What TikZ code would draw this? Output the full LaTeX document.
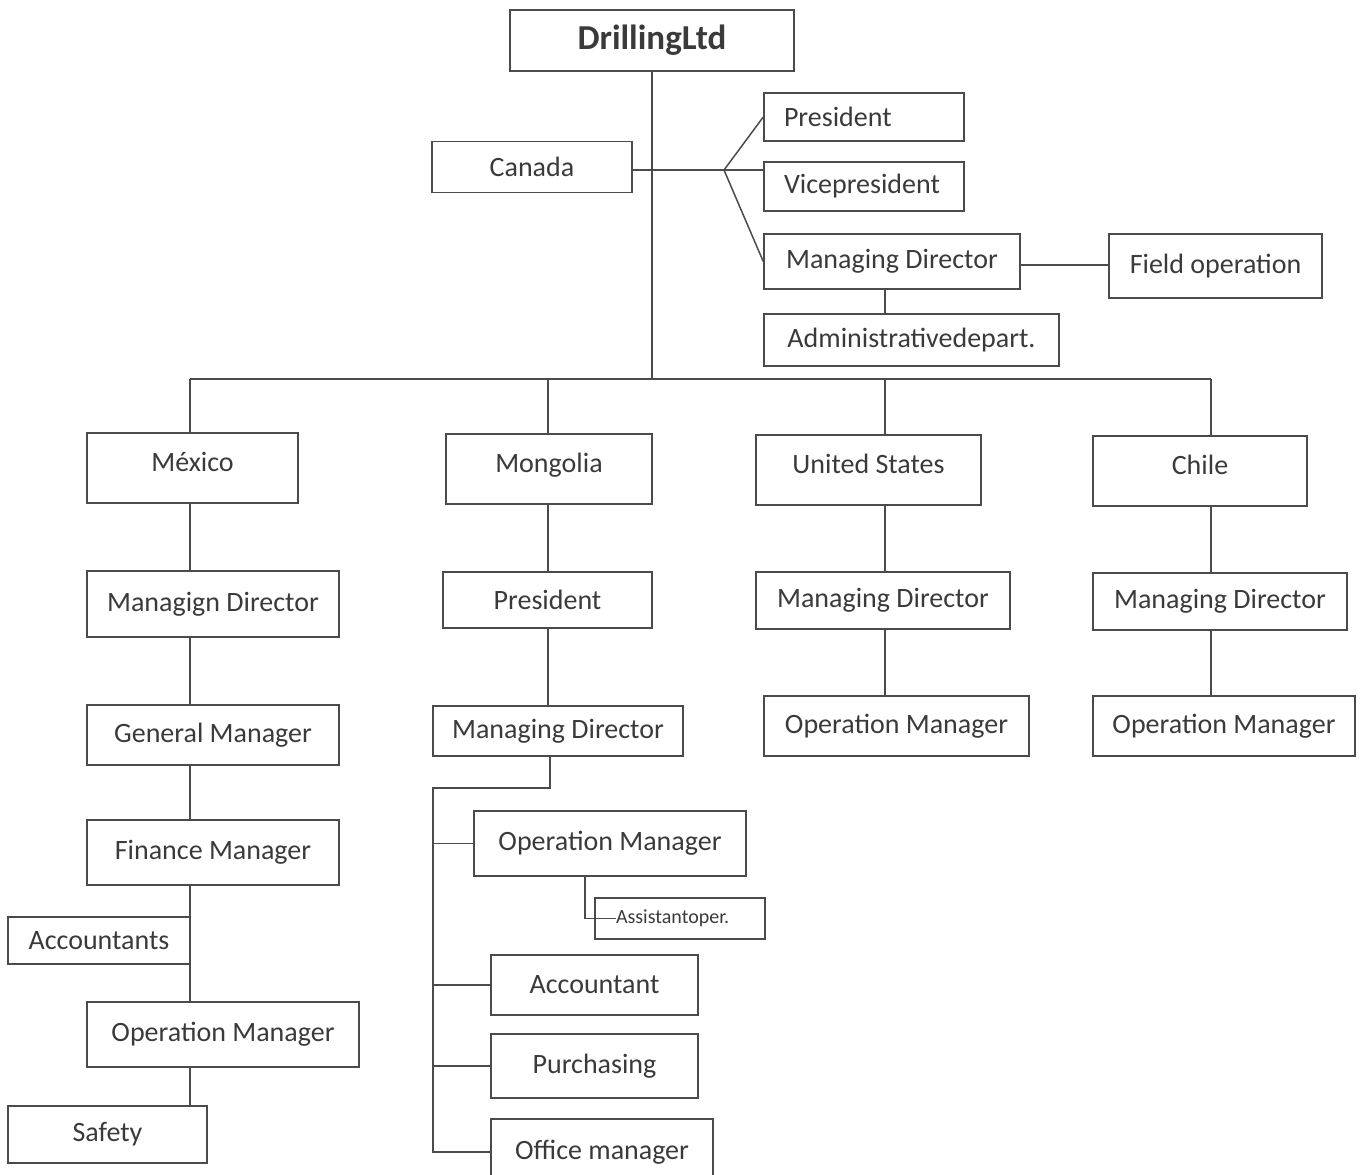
\documentclass[tikz,border=0pt]{standalone}
\usepackage{fontspec}
\setmainfont{Carlito}
\usetikzlibrary{positioning}
\definecolor{linegray}{HTML}{4B4B4B}
\definecolor{textgray}{HTML}{3A3A3A}
\begin{document}
\begin{tikzpicture}[x=1pt,y=-1pt,
  unit/.style 2 args={draw=linegray,line width=1.5pt,rectangle,inner sep=0pt,
    minimum width=#1,minimum height=#2,text=textgray,font=\fontsize{28}{32}\selectfont},
  upperset/.style={text height=38,text depth=32},
  conn/.style={draw=linegray,line width=1.5pt}]
\useasboundingbox (0,0) rectangle (1360,1175);

% top and Canada
\node[unit={284}{61},font=\bfseries\fontsize{35}{40}\selectfont] (drill) at (652,40.5) {DrillingLtd};
\node[unit={200}{51}] (can) at (532,167) {Canada};
\node[unit={200}{48},text width=160,align=left] (canpres) at (864,117) {President};
\node[unit={200}{49},text width=160,align=left] (canvice) at (864,186.5) {Vicepresident};
\node[unit={256}{55}] (canmd) at (892,261.5) {Managing Director};
\node[unit={213}{64}] (canfield) at (1215.5,266) {Field operation};
\node[unit={295}{52}] (canadm) at (911.5,340) {Administrativedepart.};

% countries
\node[unit={211}{70},upperset] (mex) at (192.5,468) {México};
\node[unit={206}{70},upperset] (mon) at (549,469) {Mongolia};
\node[unit={225}{70},upperset] (usa) at (868.5,470) {United States};
\node[unit={214}{70},upperset] (chi) at (1200,471) {Chile};

% México
\node[unit={252}{66}] (mexmd) at (213,604) {Managign Director};
\node[unit={252}{60}] (mexgm) at (213,735) {General Manager};
\node[unit={252}{65}] (mexfin) at (213,852.5) {Finance Manager};
\node[unit={182}{47}] (mexacc) at (99,940.5) {Accountants};
\node[unit={272}{65}] (mexop) at (223,1034.5) {Operation Manager};
\node[unit={199}{57}] (mexsaf) at (107.5,1134.5) {Safety};

% Mongolia
\node[unit={209}{56}] (monpres) at (547.5,600) {President};
\node[unit={250}{50}] (monmd) at (558,731) {Managing Director};
\node[unit={272}{65}] (monop) at (610,843.5) {Operation Manager};
\node[unit={170}{41},text width=128,align=left,font=\fontsize{20}{24}\selectfont] (monasst) at (680,918.5) {Assistantoper.};
\node[unit={207}{60}] (monacc) at (594.5,985) {Accountant};
\node[unit={207}{64}] (monpur) at (594.5,1066) {Purchasing};
\node[unit={222}{66}] (monoff) at (602,1152) {Office manager};

% United States and Chile
\node[unit={254}{57}] (usamd) at (883,600.5) {Managing Director};
\node[unit={265}{60}] (usaop) at (896.5,726) {Operation Manager};
\node[unit={254}{57}] (chimd) at (1220,601.5) {Managing Director};
\node[unit={262}{60}] (chiop) at (1224,726) {Operation Manager};

% connectors
\coordinate (bar) at (653,379);
\coordinate (fork) at (724,170);
\coordinate (mexcol) at (190,379);
\coordinate (moncol) at (548,379);
\coordinate (usacol) at (885,379);
\coordinate (chicol) at (1211,379);
\coordinate (monbus) at (433,788);

\draw[conn] (drill.south) -- (drill.south |- bar);
\draw[conn] (can.east |- fork) -- (fork) -- (fork -| canvice.west);
\draw[conn] (fork) -- (canpres.west);
\draw[conn] (fork) -- (canmd.west);
\draw[conn] ([yshift=-3.5]canmd.east) -- ([yshift=-3.5]canmd.east -| canfield.west);
\draw[conn] (usacol |- canmd.south) -- (usacol |- canadm.north);

\draw[conn] (mexcol) -- (chicol);
\foreach \c/\n in {mexcol/mex,moncol/mon,usacol/usa,chicol/chi}
  \draw[conn] (\c) -- (\c |- \n.north);

\foreach \a/\b in {mex/mexmd,mexmd/mexgm,mexgm/mexfin,mexfin/mexop,mexop/mexsaf}
  \draw[conn] (mexcol |- \a.south) -- (mexcol |- \b.north);

\foreach \a/\b in {mon/monpres,monpres/monmd}
  \draw[conn] (moncol |- \a.south) -- (moncol |- \b.north);
\draw[conn] ([xshift=-8]monmd.south) |- (monbus) -- (monbus |- monoff.west) -- (monoff.west);
\foreach \n in {monop,monacc,monpur}
  \draw[conn] (monbus |- \n.west) -- (\n.west);
\draw[conn] ([xshift=-25]monop.south) |- ([xshift=22]monasst.west);

\foreach \a/\b in {usa/usamd,usamd/usaop}
  \draw[conn] (usacol |- \a.south) -- (usacol |- \b.north);
\foreach \a/\b in {chi/chimd,chimd/chiop}
  \draw[conn] (chicol |- \a.south) -- (chicol |- \b.north);
\end{tikzpicture}
\end{document}
